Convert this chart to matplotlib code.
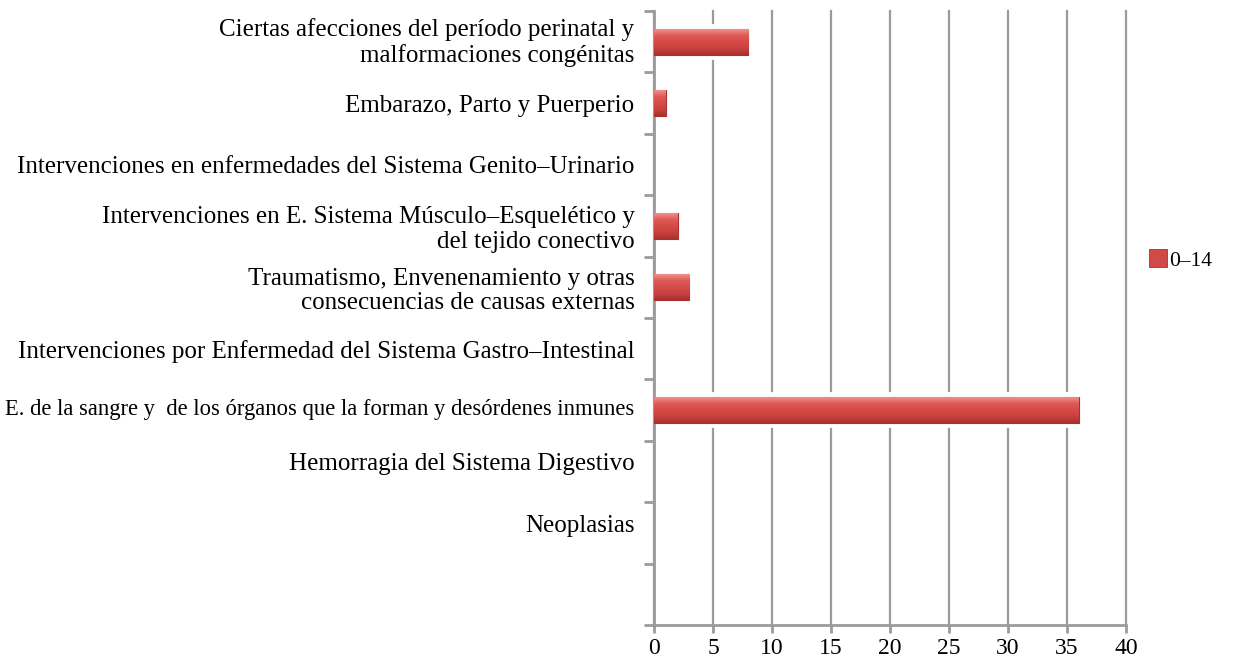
import numpy as np
import matplotlib
matplotlib.use("Agg")
import matplotlib.pyplot as plt
import matplotlib.transforms as mtransforms
from matplotlib.patches import Patch
from matplotlib.colors import LinearSegmentedColormap

categories = [
    "Ciertas afecciones del período perinatal y\nmalformaciones congénitas",
    "Embarazo, Parto y Puerperio",
    "Intervenciones en enfermedades del Sistema Genito\u2013Urinario",
    "Intervenciones en E. Sistema Músculo\u2013Esquelético y\ndel tejido conectivo",
    "Traumatismo, Envenenamiento y otras\nconsecuencias de causas externas",
    "Intervenciones por Enfermedad del Sistema Gastro\u2013Intestinal",
    "E. de la sangre y  de los órganos que la forman y desórdenes inmunes",
    "Hemorragia del Sistema Digestivo",
    "Neoplasias",
    "",
]
values_0_14 = [8, 1, 0, 2, 3, 0, 36, 0, 0, 0]
series_name = "0\u201314"
xticks = [0, 5, 10, 15, 20, 25, 30, 35, 40]

plt.rcParams['font.family'] = ['Liberation Serif', 'DejaVu Serif']

W, H = 1233, 657
fig = plt.figure(figsize=(W / 100, H / 100), dpi=100)
ax = fig.add_axes([654 / W, 1 - 625 / H, (1126 - 654) / W, (625 - 11) / H])

grid_col = '#9E9A9A'
y = np.arange(len(categories))
bar_h = 0.42
vals = np.array(values_0_14, dtype=float)
nz = vals > 0

# white halo behind bars (gaps in gridlines)
ax.barh(y[nz], vals[nz], height=bar_h, color='white', edgecolor='white',
        linewidth=7, zorder=1)
bars = ax.barh(y[nz], vals[nz], height=bar_h, color='#D24A47',
               edgecolor='#A8302E', linewidth=0.8, zorder=3)

# gradient fill for a glossy look (light top, darker bottom)
cmap = LinearSegmentedColormap.from_list(
    'g', ['#EE8F8C', '#DE5A57', '#D44B48', '#C9413E', '#A8302E'])
grad = np.linspace(0, 1, 64).reshape(-1, 1)
for b in bars:
    w = b.get_width()
    x0, y0, hh = b.get_x(), b.get_y(), b.get_height()
    im = ax.imshow(grad, cmap=cmap, aspect='auto', origin='lower',
                   extent=[x0, x0 + w, y0, y0 + hh], zorder=4,
                   interpolation='bilinear')
    im.set_clip_path(b)

ax.set_xlim(0, 40)
ax.set_ylim(len(categories) - 0.5, -0.5)
ax.set_aspect('auto')

ax.set_xticks(xticks)
ax.set_xticklabels([str(v) for v in xticks], fontsize=17)
ax.set_yticks(y)
ax.set_yticklabels(categories, fontsize=18, linespacing=1.15)
ax.set_yticks(np.arange(len(categories) + 1) - 0.5, minor=True)

ax.tick_params(axis='y', which='major', length=0, pad=14)
ax.tick_params(axis='y', which='minor', length=7, width=2, color=grid_col)
ax.tick_params(axis='x', which='major', length=6, width=2, color=grid_col, pad=3)

# fine-tune label appearance
ylabels = ax.get_yticklabels()
ylabels[6].set_fontsize(16.3)
for i, dy in [(0, 3), (7, 10), (8, 9), (6, 3)]:
    ylabels[i].set_transform(ylabels[i].get_transform() +
                             mtransforms.ScaledTranslation(0, dy / 100, fig.dpi_scale_trans))

ax.xaxis.grid(True, color=grid_col, linewidth=1.6)
for gl in ax.get_xgridlines():
    gl.set_clip_on(False)
ax.set_axisbelow(True)

for s in ['top', 'right']:
    ax.spines[s].set_visible(False)
for s in ['left', 'bottom']:
    ax.spines[s].set_color(grid_col)
    ax.spines[s].set_linewidth(2)

handle = Patch(facecolor='#D24A47', edgecolor='#A8302E', linewidth=0.6)
fig.legend([handle], [series_name], loc='center left',
           bbox_to_anchor=(1149 / W, 1 - 260 / H), frameon=False,
           fontsize=15.5, handlelength=0.85, handleheight=0.85,
           handletextpad=0.1, borderpad=0, borderaxespad=0)

fig.savefig('out.png', dpi=100, facecolor='white')
